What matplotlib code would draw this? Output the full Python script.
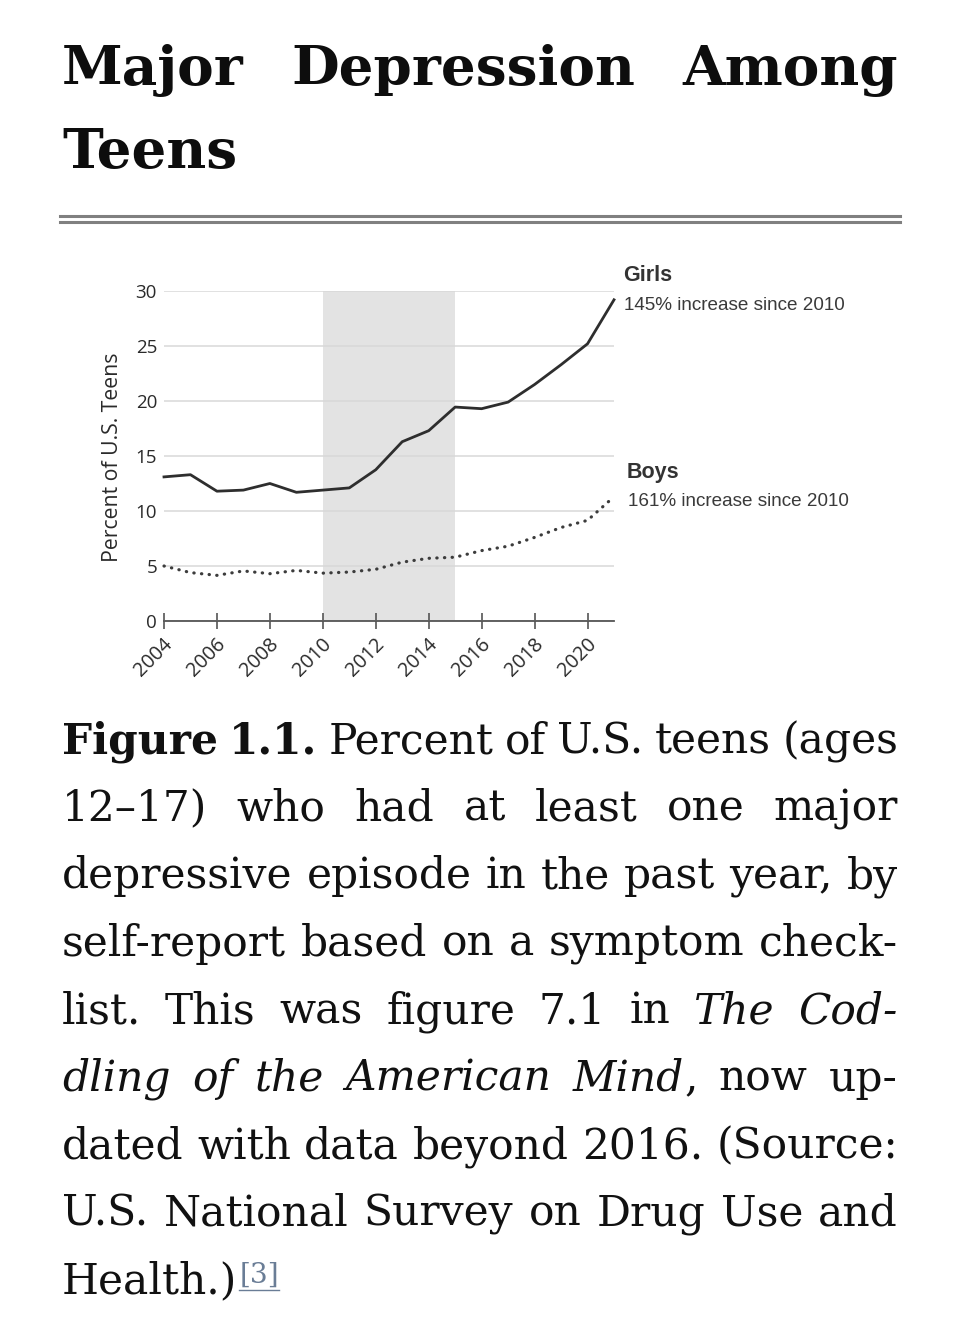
import matplotlib
matplotlib.use('Agg')
import matplotlib.pyplot as plt
import matplotlib.transforms as mtransforms
from matplotlib.lines import Line2D

# ---------------- data ----------------
years = list(range(2004, 2022))
girls = [13.1, 13.3, 11.8, 11.9, 12.5, 11.7, 11.9, 12.1, 13.75, 16.3, 17.3,
         19.45, 19.3, 19.9, 21.5, 23.3, 25.2, 29.2]
boys = [5.0, 4.4, 4.15, 4.55, 4.3, 4.6, 4.35, 4.45, 4.7, 5.35, 5.7,
        5.8, 6.4, 6.8, 7.6, 8.5, 9.15, 11.3]
y_ticks = [0, 5, 10, 15, 20, 25, 30]
x_ticks = list(range(2004, 2021, 2))
x_tick_labels = [str(v) for v in x_ticks]
shade_span = (2010, 2015)

title_words_line1 = ["Major", "Depression", "Among"]
title_words_line2 = ["Teens"]
girls_label = "Girls"
girls_note = "145% increase since 2010"
boys_label = "Boys"
boys_note = "161% increase since 2010"
y_label = "Percent of U.S. Teens"

# caption: lines -> words -> segments (text, style)
caption_lines = [
    [[("Figure", "b")], [("1.1.", "b")], [("Percent", "r")], [("of", "r")],
     [("U.S.", "r")], [("teens", "r")], [("(ages", "r")]],
    [[("12\u201317)", "r")], [("who", "r")], [("had", "r")], [("at", "r")],
     [("least", "r")], [("one", "r")], [("major", "r")]],
    [[("depressive", "r")], [("episode", "r")], [("in", "r")], [("the", "r")],
     [("past", "r")], [("year,", "r")], [("by", "r")]],
    [[("self-report", "r")], [("based", "r")], [("on", "r")], [("a", "r")],
     [("symptom", "r")], [("check-", "r")]],
    [[("list.", "r")], [("This", "r")], [("was", "r")], [("figure", "r")],
     [("7.1", "r")], [("in", "r")], [("The", "i")], [("Cod-", "i")]],
    [[("dling", "i")], [("of", "i")], [("the", "i")], [("American", "i")],
     [("Mind", "i"), (",", "r")], [("now", "r")], [("up-", "r")]],
    [[("dated", "r")], [("with", "r")], [("data", "r")], [("beyond", "r")],
     [("2016.", "r")], [("(Source:", "r")]],
    [[("U.S.", "r")], [("National", "r")], [("Survey", "r")], [("on", "r")],
     [("Drug", "r")], [("Use", "r")], [("and", "r")]],
    [[("Health.)", "r")]],
]
footnote = "[3]"

# ---------------- figure ----------------
W, H = 960, 1326
fig = plt.figure(figsize=(W / 100, H / 100), dpi=100)
fig.patch.set_facecolor('white')
renderer = fig.canvas.get_renderer()


def fx(px):
    return px / W


def fy(py):
    return 1 - py / H


def measure(s, props):
    t = fig.text(0, 0, s, **props)
    w = t.get_window_extent(renderer).width
    t.remove()
    return w


def style_props(code, size, family, color):
    p = dict(family=family, size=size, color=color)
    if code == "b":
        p["weight"] = "bold"
    elif code == "i":
        p["style"] = "italic"
    return p


def draw_justified(words, x0, x1, baseline, size, family, color, justify=True, gap_em=0.28):
    widths = []
    for w in words:
        segs = []
        for txt, code in w:
            segs.append((txt, code, measure(txt, style_props(code, size, family, color))))
        widths.append(segs)
    totals = [sum(s[2] for s in segs) for segs in widths]
    n = len(words)
    if justify and n > 1:
        gap = (x1 - x0 - sum(totals)) / (n - 1)
    else:
        gap = gap_em * size * 100 / 72
    x = x0
    for segs, tw in zip(widths, totals):
        xs = x
        for txt, code, sw in segs:
            fig.text(fx(xs), fy(baseline), txt, ha='left', va='baseline',
                     **style_props(code, size, family, color))
            xs += sw + (1 if code == 'i' else 0)
        x += tw + gap
    return x - gap


# ---- title ----
title_family = 'DejaVu Serif'
title_size = 39.5
draw_justified([[(w, "b")] for w in title_words_line1], 62, 898, 85, title_size, title_family, '#0d0d0d')
draw_justified([[(w, "b")] for w in title_words_line2], 62, 898, 168, title_size, title_family, '#0d0d0d', justify=False)

# ---- double rule ----
for yy in (215.5, 221.8):
    fig.add_artist(Line2D([fx(60), fx(900)], [fy(yy), fy(yy)], transform=fig.transFigure,
                          color='#808080', lw=2.2))

# ---- caption ----
cap_family = 'DejaVu Serif'
cap_size = 31.0
min_gap_px = 11
while True:
    worst = 0
    for line in caption_lines[:-1]:
        tot = sum(measure(t, style_props(c, cap_size, cap_family, '#111')) for w in line for t, c in w)
        worst = max(worst, tot + (len(line) - 1) * min_gap_px)
    if worst <= 836 or cap_size < 24:
        break
    cap_size -= 0.5

for i, line in enumerate(caption_lines):
    base = 753.3 + 67.5 * i
    last = (i == len(caption_lines) - 1)
    xend = draw_justified(line, 62, 898, base, cap_size, cap_family, '#111111', justify=not last)
    if last:
        fcol = '#6a7d96'
        fprops = dict(family=cap_family, size=cap_size * 0.66, color=fcol)
        fw = measure(footnote, fprops)
        fx0 = xend + 2
        fig.text(fx(fx0), fy(1283), footnote, ha='left', va='baseline', **fprops)
        fig.add_artist(Line2D([fx(fx0), fx(fx0 + fw)], [fy(1290), fy(1290)],
                              transform=fig.transFigure, color=fcol, lw=1.0))

# ---- chart ----
left_px, right_px, top_px, bottom_px = 164, 614, 291, 621
ax = fig.add_axes([fx(left_px), fy(bottom_px), (right_px - left_px) / W, (bottom_px - top_px) / H])
ax.set_xlim(2004, 2021)
ax.set_ylim(0, 30)
ax.axvspan(shade_span[0], shade_span[1], color='#e3e3e3', lw=0, zorder=0)
ax.set_axisbelow(True)
ax.yaxis.grid(True, color='#d8d8d8', lw=1.1)
ax.xaxis.grid(False)
for s in ('left', 'right', 'top'):
    ax.spines[s].set_visible(False)
ax.spines['bottom'].set_color('#555555')
ax.spines['bottom'].set_linewidth(1.3)
ax.spines['bottom'].set_zorder(3)

ax.plot(years, girls, color='#2e2e2e', lw=2.0, solid_joinstyle='round', clip_on=False, zorder=4)
ax.plot(years, boys, color='#3c3c3c', lw=2.3, linestyle=(0, (0.1, 2.3)),
        dash_capstyle='round', clip_on=False, zorder=4)

tick_font = 'Open Sans'
ax.set_yticks(y_ticks)
ax.set_yticklabels([str(v) for v in y_ticks], family=tick_font, size=13.5, color='#2a2a2a')
ax.tick_params(axis='y', length=0, pad=5)

ax.set_xticks(x_ticks)
ax.set_xticklabels(x_tick_labels, family=tick_font, size=14.3, color='#2a2a2a',
                   rotation=45, ha='center', va='center', rotation_mode='anchor')
ax.tick_params(axis='x', direction='inout', length=11.5, width=1.2, color='#555555', pad=20.5)
offset = mtransforms.ScaledTranslation(-10 / 100, 0, fig.dpi_scale_trans)
for lab in ax.get_xticklabels():
    lab.set_transform(lab.get_transform() + offset)

fig.text(fx(113), fy(457), y_label, rotation=90, ha='center', va='center',
         family=tick_font, size=15.3, color='#2a2a2a')

ann_family = 'Liberation Sans'
fig.text(fx(623), fy(281), girls_label, ha='left', va='baseline', family=ann_family,
         weight='bold', size=15.5, color='#333333')
fig.text(fx(624), fy(310), girls_note, ha='left', va='baseline', family=ann_family,
         size=13.6, color='#3a3a3a')
fig.text(fx(627), fy(478), boys_label, ha='left', va='baseline', family=ann_family,
         weight='bold', size=15.5, color='#333333')
fig.text(fx(628), fy(506), boys_note, ha='left', va='baseline', family=ann_family,
         size=13.6, color='#3a3a3a')

fig.savefig('out.png', dpi=100, facecolor='white')
